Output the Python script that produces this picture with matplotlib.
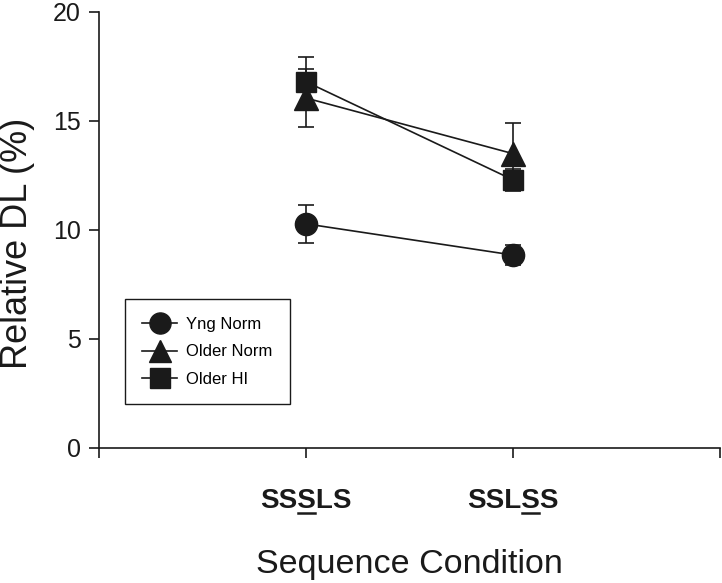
import matplotlib
matplotlib.use("Agg")
import matplotlib.pyplot as plt
from matplotlib.lines import Line2D

plt.rcParams['font.family'] = ['Liberation Sans', 'DejaVu Sans']

conditions = ['SSSLS', 'SSLSS']
underlined = [2, 3]  # index of underlined letter in each label
x_pos = [1, 2]
series = ['Yng Norm', 'Older Norm', 'Older HI']
markers = ['o', '^', 's']
means = {
    'Yng Norm': [10.28, 8.85],
    'Older Norm': [16.05, 13.5],
    'Older HI': [16.8, 12.3],
}
errs = {
    'Yng Norm': [0.88, 0.45],
    'Older Norm': [1.35, 1.4],
    'Older HI': [1.15, 0.5],
}
msizes = {'o': 16, '^': 17, 's': 14.5}

col = '#1a1a1a'
fig = plt.figure(figsize=(7.22, 5.83), dpi=100)
ax = fig.add_axes([0.137, 0.2316, 0.86, 0.748])

handles = []
for name, m in zip(series, markers):
    ax.errorbar(x_pos, means[name], yerr=errs[name], color=col, marker=m,
                markersize=msizes[m], linewidth=1.2, elinewidth=1.2,
                capsize=6, capthick=1.2)
    handles.append(Line2D([], [], color=col, marker=m, markersize=msizes[m] * 0.95,
                          linewidth=1.2, label=name))

ax.set_xlim(0, 3)
ax.set_ylim(0, 20)
ax.set_xticks([0, 1, 2, 3])
ax.set_xticklabels(['', conditions[0], conditions[1], ''], fontsize=20,
                   fontweight='bold')
ax.set_yticks([0, 5, 10, 15, 20])
ax.tick_params(axis='y', labelsize=18, direction='out', length=7, width=1.2,
               colors=col, pad=6)
ax.tick_params(axis='x', direction='out', length=7, width=1.2, colors=col, pad=22)
for s in ['top', 'right']:
    ax.spines[s].set_visible(False)
for s in ['left', 'bottom']:
    ax.spines[s].set_linewidth(1.2)
    ax.spines[s].set_color(col)

ax.set_ylabel('Relative DL (%)', fontsize=26, color=col)
ax.yaxis.set_label_coords(-0.103, 0.47)
ax.set_xlabel('Sequence Condition', fontsize=24.5, color=col)
ax.xaxis.set_label_coords(0.5, -0.231)

leg = ax.legend(handles=handles, loc='lower left', bbox_to_anchor=(0.042, 0.1),
                borderaxespad=0, fontsize=12, handlelength=2.1, fancybox=False,
                framealpha=1, edgecolor=col, borderpad=1.05, labelspacing=0.75,
                handletextpad=0.5)
leg.get_frame().set_linewidth(1.0)

# underline the marked letter in each x tick label, measured from the rendered text
fig.canvas.draw()
renderer = fig.canvas.get_renderer()
labels = [t for t in ax.get_xticklabels() if t.get_text()]
for lab, idx in zip(labels, underlined):
    txt = lab.get_text()
    bb = lab.get_window_extent(renderer)
    tmp_pre = fig.text(0, 0, txt[:idx], fontsize=20, fontweight='bold')
    tmp_ch = fig.text(0, 0, txt[:idx + 1], fontsize=20, fontweight='bold')
    w_pre = tmp_pre.get_window_extent(renderer).width
    w_ch = tmp_ch.get_window_extent(renderer).width
    tmp_pre.remove(); tmp_ch.remove()
    x0 = bb.x0 + w_pre + 1
    x1 = bb.x0 + w_ch - 1
    y = bb.y0 + 1
    W, H = fig.bbox.width, fig.bbox.height
    fig.add_artist(Line2D([x0 / W, x1 / W], [y / H, y / H], color=col, lw=1.8,
                          transform=fig.transFigure))

fig.savefig('out.png', dpi=100)
